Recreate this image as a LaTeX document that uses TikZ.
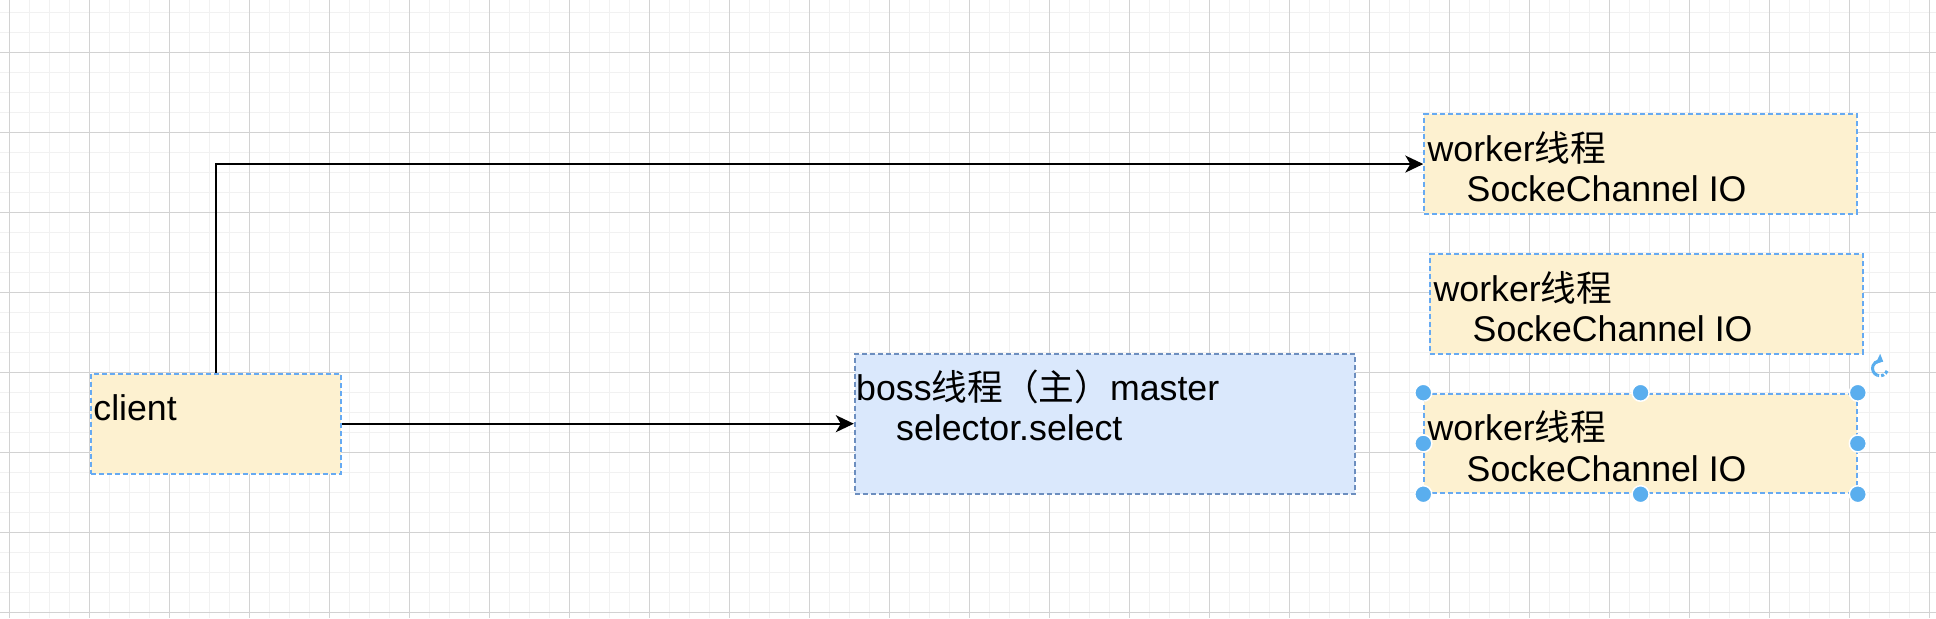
\documentclass[tikz,border=0pt]{standalone}
\usepackage{fontspec}
\setmainfont{Liberation Sans}
\newfontfamily\cjk{Noto Sans CJK SC}
\usepackage{tikz}
\usetikzlibrary{arrows.meta}

\definecolor{gridminor}{HTML}{F1F1F1}
\definecolor{gridmajor}{HTML}{D2D2D2}
\definecolor{noteyellow}{HTML}{FDF1D0}
\definecolor{noteblue}{HTML}{DAE8FC}
\definecolor{edgeblue}{HTML}{66AAF2}
\definecolor{bossedge}{HTML}{6C8EBF}
\definecolor{handleblue}{HTML}{5AAEEE}

\tikzset{
  box/.style={rectangle, draw=edgeblue, fill=noteyellow, line width=1pt,
    dash pattern=on 2.5pt off 1.5pt, inner sep=0pt, anchor=north west},
  bossbox/.style={box, draw=bossedge, fill=noteblue},
  workerbox/.style={box, minimum width=216.25pt, minimum height=49.75pt},
  txt/.style={inner sep=0pt, anchor=base west, align=left,
    font=\fontsize{17.85pt}{20.25pt}\selectfont},
  flow/.style={-{Stealth[length=9pt,width=8.5pt,inset=2.5pt]}, line width=1pt, black},
  handle/.style={fill=handleblue, draw=white, line width=0.75pt}
}

\begin{document}
\begin{tikzpicture}[x=0.5pt,y=-0.5pt]
    \pgfmathsetmacro{\gx}{9.3}
    \pgfmathsetmacro{\gy}{12.3}
    \pgfmathsetmacro{\gY}{52.3}
    % Page and grid
    \useasboundingbox (0,0) rectangle (1936,618);
    \fill [white] (0,0) rectangle (1936,618);
    \foreach \i in {0,...,96}
        \draw [gridminor, line width=0.8pt] (\gx+20*\i,0) -- (\gx+20*\i,618);
    \foreach \j in {0,...,30}
        \draw [gridminor, line width=0.8pt] (0,\gy+20*\j) -- (1936,\gy+20*\j);
    \foreach \i in {0,...,24}
        \draw [gridmajor, line width=0.4pt] (\gx+80*\i,0) -- (\gx+80*\i,618);
    \foreach \j in {0,...,7}
        \draw [gridmajor, line width=0.4pt] (0,\gY+80*\j) -- (1936,\gY+80*\j);

    % Boxes
    \node [box, minimum width=125pt, minimum height=50pt] (client) at (90,372.7) {};
    \node [bossbox, minimum width=250pt, minimum height=70pt] (boss) at (853.8,352.7) {};
    \node [workerbox] (w1) at (1423.3,113.3) {};
    \node [workerbox] (w2) at (1429.3,253.3) {};
    \node [workerbox] (w3) at (1423.3,392.7) {};

    % Box texts (base = last line)
    \node [txt] (clientt) at ([shift={(3,47.5)}]client.north west) {client};
    \node [txt] (bosst) at ([shift={(2,88)}]boss.north west)
        {boss{\cjk 线程（主）}master\\\hspace*{20pt}selector.select};
    \foreach \w in {w1,w2,w3}
        \node [txt] (\w t) at ([shift={(4,88.5)}]\w.north west)
            {worker{\cjk 线程}\\\hspace*{19.5pt}SockeChannel IO};

    % Connectors
    \draw [flow] (client.east) -- (boss.west);
    \draw [flow] (client.north) |- (w1.west);

    % Selection handles on w3
    \foreach \a in {north west,north,north east,west,east,south west,south,south east}
        \draw [handle] (w3.\a) circle (4.25pt);
    \coordinate (rot) at (1880,368.3);
    \draw [handleblue, line width=1.5pt, dash pattern=on 1.5pt off 1pt]
        ([shift={(-20:3.75pt)}]rot) arc [start angle=-20, end angle=-110, radius=3.75pt];
    \draw [handleblue, line width=1.5pt, -{Triangle[length=3pt,width=5.5pt]}]
        ([shift={(-110:3.75pt)}]rot) arc [start angle=-110, end angle=-295, radius=3.75pt];
\end{tikzpicture}
\end{document}
